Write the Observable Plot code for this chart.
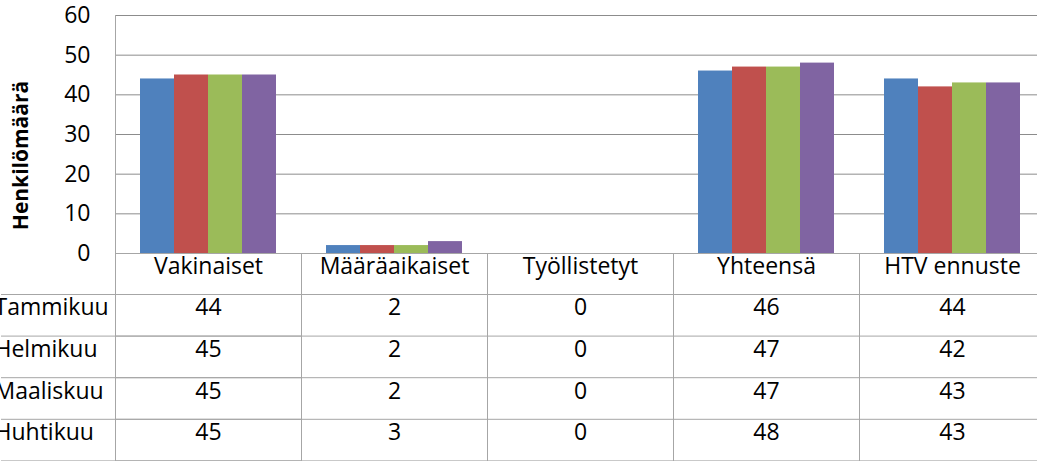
<!DOCTYPE html>
<html>
<head>
<meta charset="utf-8">
<script src="https://cdn.jsdelivr.net/npm/d3@7"></script>
<script src="https://cdn.jsdelivr.net/npm/@observablehq/plot@0.6"></script>
<style>
  html, body { margin: 0; padding: 0; background: #fff; overflow: hidden; }
</style>
</head>
<body>
<div id="chart"></div>
<script>
// ---- data ----
const categories = ["Vakinaiset", "Määräaikaiset", "Työllistetyt", "Yhteensä", "HTV ennuste"];
const months = ["Tammikuu", "Helmikuu", "Maaliskuu", "Huhtikuu"];
const tammikuu = [44, 2, 0, 46, 44];
const helmikuu = [45, 2, 0, 47, 42];
const maaliskuu = [45, 2, 0, 47, 43];
const huhtikuu = [45, 3, 0, 48, 43];
const yTicks = [0, 10, 20, 30, 40, 50, 60];
const seriesColors = ["#4F81BD", "#C0504D", "#9BBB59", "#8064A2"];
const yLabel = "Henkilömäärä";

const seriesValues = [tammikuu, helmikuu, maaliskuu, huhtikuu];
const rows = months.flatMap((m, i) =>
  categories.map((c, j) => ({cat: c, month: m, value: seriesValues[i][j]}))
);

// ---- layout constants ----
const FONT = "'Open Sans', sans-serif";
const FS = 23;
const gridColor = "#8c8c8c";
const tableColor = "#a6a6a6";
const headerH = 41;
const rowH = 41.6;
const tableBottom = headerH + rowH * months.length;
const rowLineOffsets = [headerH, ...months.map((_, i) => headerH + rowH * (i + 1))];

const marks = [
  Plot.gridY(yTicks, {stroke: gridColor, strokeOpacity: 1}),
  Plot.barY(rows, {fx: "cat", x: "month", y: "value", fill: "month"}),
  // axis line / plot left border (first facet, full height incl. table)
  Plot.frame({anchor: "left", facetAnchor: "left", stroke: tableColor, insetBottom: -tableBottom}),
  // table column separators
  Plot.frame({anchor: "left", stroke: tableColor, insetTop: 238, insetBottom: -tableBottom}),
  // category axis line
  Plot.frame({anchor: "bottom", stroke: tableColor}),
  Plot.axisY(yTicks, {tickSize: 0, tickPadding: 25, fontSize: FS, fill: "#000", label: null}),
  Plot.text([yLabel], {
    fx: () => categories[0], text: d => d, frameAnchor: "left", textAnchor: "middle", rotate: -90,
    dx: -94, dy: 21, fontSize: 21, fontWeight: "bold", fill: "#000"
  }),
  // header row
  Plot.text(categories, {fx: d => d, text: d => d, frameAnchor: "bottom", dy: headerH / 2, fontSize: FS, fill: "#000"})
];

// table rows lines
rowLineOffsets.forEach(off => {
  marks.push(Plot.frame({anchor: "bottom", stroke: tableColor, insetBottom: -off}));
  marks.push(Plot.frame({anchor: "bottom", facetAnchor: "left", stroke: tableColor, insetBottom: -off, insetLeft: -114}));
});

// table values and row labels
months.forEach((m, i) => {
  const dy = headerH + rowH * i + rowH / 2;
  marks.push(Plot.text(rows.filter(r => r.month === m), {
    fx: "cat", text: "value", frameAnchor: "bottom", dy, fontSize: FS, fill: "#000"
  }));
  marks.push(Plot.text([m], {
    fx: () => categories[0], text: d => d, frameAnchor: "bottom-left", textAnchor: "start",
    dx: -121, dy, fontSize: FS, fill: "#000"
  }));
});

const chart = Plot.plot({
  width: 1045,
  height: 461,
  marginLeft: 114,
  marginRight: 0,
  marginTop: 15,
  marginBottom: 208,
  style: {fontFamily: FONT, fontSize: FS + "px", maxWidth: "none", overflow: "visible", background: "#fff"},
  fx: {domain: categories, paddingInner: 0, paddingOuter: 0, axis: null, label: null},
  x: {domain: months, paddingInner: 0, paddingOuter: 0.735, axis: null, label: null},
  y: {domain: [0, 60], axis: null, label: null},
  color: {domain: months, range: seriesColors},
  marks
});
document.getElementById("chart").appendChild(chart);
</script>
</body>
</html>
